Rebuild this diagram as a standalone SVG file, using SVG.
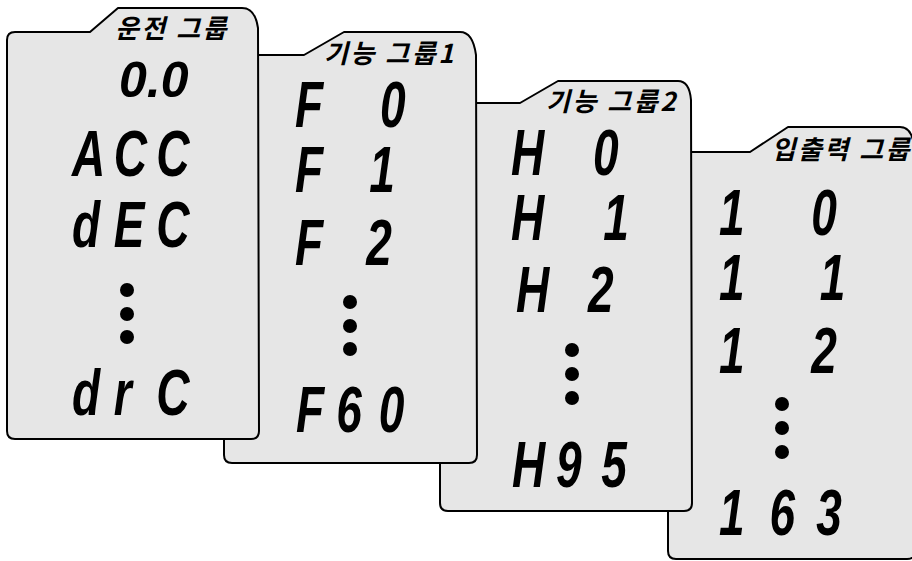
<svg xmlns="http://www.w3.org/2000/svg" width="912" height="561" viewBox="0 0 912 561">
<style>
.card{fill:#e6e6e6;stroke:#000;stroke-width:2;stroke-linejoin:round}
.hd{font-family:"Noto Sans CJK KR","Noto Sans",sans-serif;font-weight:bold;font-style:italic;font-size:26px;letter-spacing:2.5px;text-anchor:end;fill:#000}
.seg{font-family:"Liberation Sans",Arial,sans-serif;font-weight:bold;font-style:italic;font-size:64px;fill:#000}
.seg2{font-family:"Liberation Sans",Arial,sans-serif;font-weight:bold;font-style:italic;font-size:50px;fill:#000}
.dot{fill:#000}
</style>
<rect width="912" height="561" fill="#fff"/>
<g id="card-io">
<path class="card" d="M668,160 Q668,152 676,152 L750,152 L788,127 L900,127 C907,127 911,132 913,140 L915,150 L915,552 Q915,559 907,559 L676,559 Q668,559 668,551 Z"/>
<text class="hd" x="912" y="159">입출력 그룹</text>
<text class="seg" transform="translate(719 235) scale(0.72 1)" x="0 65 128">1 0</text>
<text class="seg" transform="translate(719 300) scale(0.72 1)" x="0 65 140">1 1</text>
<text class="seg" transform="translate(719 373) scale(0.72 1)" x="0 65 128">1 2</text>
<circle class="dot" cx="782" cy="404" r="7"/><circle class="dot" cx="782" cy="428" r="7"/><circle class="dot" cx="782" cy="452" r="7"/>
<text class="seg" transform="translate(719 535) scale(0.72 1)" x="0 70 135">163</text>
</g>
<g id="card-func2">
<path class="card" d="M440,111 Q440,103 448,103 L520,103 L558,81 L678,81 C686,81 690,88 691,100 L692,503 Q692,511 684,511 L448,511 Q440,511 440,503 Z"/>
<text class="hd" x="678" y="111">기능 그룹2</text>
<text class="seg" transform="translate(511 175) scale(0.72 1)" x="0 55 114">H 0</text>
<text class="seg" transform="translate(511 240) scale(0.72 1)" x="0 55 128">H 1</text>
<text class="seg" transform="translate(516 312) scale(0.72 1)" x="0 50 100">H 2</text>
<circle class="dot" cx="572" cy="350" r="7"/><circle class="dot" cx="572" cy="374" r="7"/><circle class="dot" cx="572" cy="398" r="7"/>
<text class="seg" transform="translate(512 487) scale(0.72 1)" x="0 61 124">H95</text>
</g>
<g id="card-func1">
<path class="card" d="M224,63 Q224,55 232,55 L304,55 L344,32 L460,32 C469,32 474,40 476,55 L477,455 Q477,463 469,463 L232,463 Q224,463 224,455 Z"/>
<text class="hd" x="456" y="63">기능 그룹1</text>
<text class="seg" transform="translate(295 127) scale(0.72 1)" x="0 49 118">F 0</text>
<text class="seg" transform="translate(295 192) scale(0.72 1)" x="0 49 103">F 1</text>
<text class="seg" transform="translate(295 265) scale(0.72 1)" x="0 49 99">F 2</text>
<circle class="dot" cx="350" cy="302" r="7"/><circle class="dot" cx="350" cy="326" r="7"/><circle class="dot" cx="350" cy="349" r="7"/>
<text class="seg" transform="translate(296 432) scale(0.72 1)" x="0 56 115">F60</text>
</g>
<g id="card-run">
<path class="card" d="M7,40 Q7,32 15,32 L90,32 L118,8 L242,8 C250,8 256,14 258,28 L259,431 Q259,439 251,439 L15,439 Q7,439 7,431 Z"/>
<text class="hd" x="229" y="38">운전 그룹</text>
<text class="seg2" x="119" y="97">0.0</text>
<text class="seg" transform="translate(72 176) scale(0.72 1)" x="0 58 117">ACC</text>
<text class="seg" transform="translate(72 247) scale(0.72 1)" x="0 58 117">dEC</text>
<circle class="dot" cx="127" cy="290" r="7"/><circle class="dot" cx="127" cy="314" r="7"/><circle class="dot" cx="127" cy="337" r="7"/>
<text class="seg" transform="translate(72 415) scale(0.72 1)" x="0 58 117">drC</text>
</g>
</svg>
